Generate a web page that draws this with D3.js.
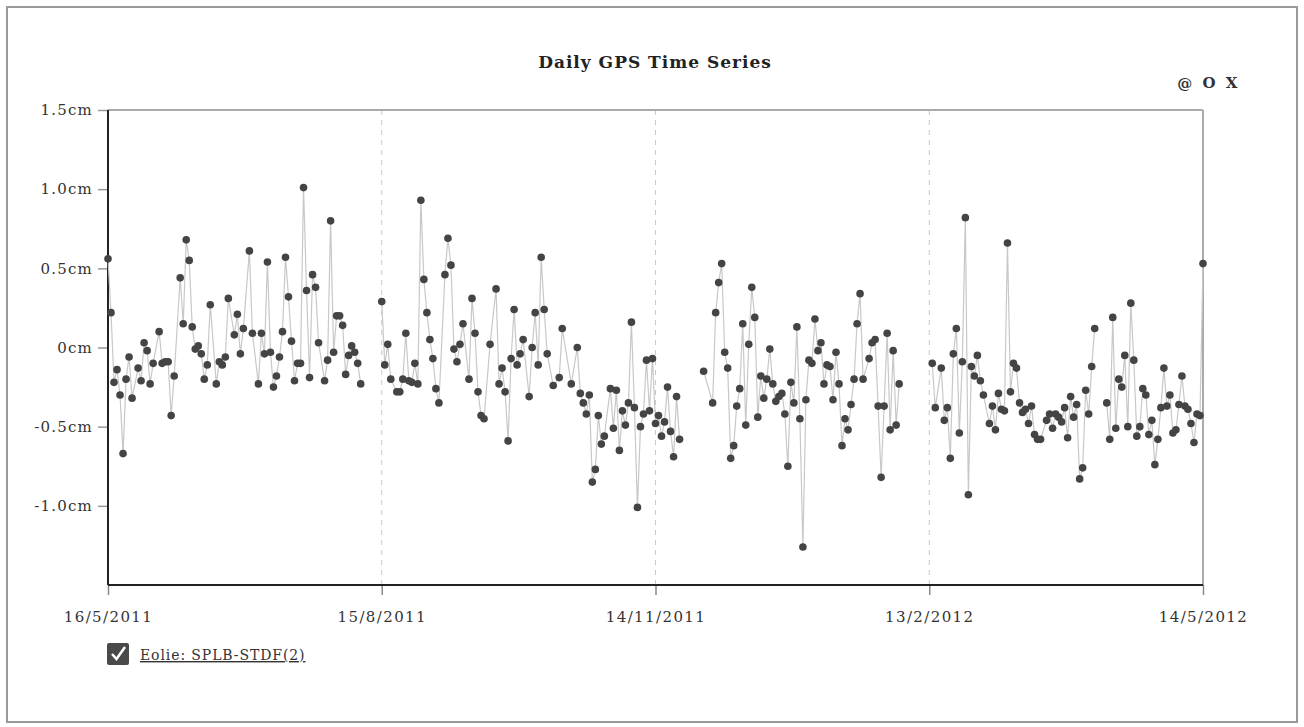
<!DOCTYPE html>
<html><head><meta charset="utf-8">
<script src="https://cdn.jsdelivr.net/npm/d3@7"></script>
<style>
body{margin:0;background:#fff;}
svg{display:block;font-family:"DejaVu Serif",serif;}
</style></head><body>
<svg id="chart" width="1304" height="727"></svg>
<script>
const chartTitle = "Daily GPS Time Series";
const cornerLabel = "@ O X";
const seriesName = "Eolie: SPLB-STDF(2)";
const startDate = new Date(2011, 4, 16);
const xTickDays = [0, 91, 182, 273, 364];
const yTickValues = [1.5, 1.0, 0.5, 0, -0.5, -1.0];
const yDomain = [-1.5, 1.5];

const dayOffsets = [
  0,1,2,3,4,5,6,7,8,10,11,12,13,14,15,17,18,19,20,21,22,24,25,26,27,28,29,30,31,32,33,34,36,37,38,39,40,42,43,44,
  45,47,48,50,51,52,53,54,55,56,57,58,59,60,61,62,63,64,65,66,67,68,69,70,72,73,74,75,76,77,78,79,80,81,82,83,84,
  91,92,93,94,96,97,98,99,100,101,102,103,104,105,106,107,108,109,110,112,113,114,115,116,117,118,120,121,122,123,124,125,127,129,130,131,132,133,134,135,136,
  137,138,140,141,142,143,144,145,146,148,150,151,154,156,157,158,159,160,161,162,163,164,165,167,168,169,170,171,172,173,174,175,176,177,178,179,180,181,182,183,184,185,186,187,188,189,190,
  198,201,202,203,204,205,206,207,208,209,210,211,212,213,214,215,216,217,218,219,220,221,222,223,224,225,226,227,228,229,230,231,232,233,234,235,236,237,238,239,240,241,242,243,244,245,246,247,248,249,250,251,
  253,254,255,256,257,258,259,260,261,262,263,
  274,275,277,278,279,280,281,282,283,284,285,286,287,288,289,290,291,293,294,295,296,297,298,299,300,301,302,303,304,305,306,307,308,309,310,312,313,314,315,316,317,318,
  319,320,321,322,323,324,325,326,327,328,332,333,334,335,336,337,338,339,340,341,342,343,344,345,346,347,348,349,350,351,352,353,354,355,356,357,358,359,360,361,362,363,364
];
const values = [
  0.56,0.22,-0.22,-0.14,-0.30,-0.67,-0.20,-0.06,-0.32,-0.13,-0.21,0.03,-0.02,-0.23,-0.10,0.10,-0.10,-0.09,-0.09,-0.43,-0.18,0.44,0.15,0.68,0.55,0.13,-0.01,0.01,-0.04,-0.20,-0.11,0.27,-0.23,-0.09,-0.11,-0.06,0.31,0.08,0.21,-0.04,
  0.12,0.61,0.09,-0.23,0.09,-0.04,0.54,-0.03,-0.25,-0.18,-0.06,0.10,0.57,0.32,0.04,-0.21,-0.10,-0.10,1.01,0.36,-0.19,0.46,0.38,0.03,-0.21,-0.08,0.80,-0.03,0.20,0.20,0.14,-0.17,-0.05,0.01,-0.03,-0.10,-0.23,
  0.29,-0.11,0.02,-0.20,-0.28,-0.28,-0.20,0.09,-0.21,-0.22,-0.10,-0.23,0.93,0.43,0.22,0.05,-0.07,-0.26,-0.35,0.46,0.69,0.52,-0.01,-0.09,0.02,0.15,-0.20,0.31,0.09,-0.28,-0.43,-0.45,0.02,0.37,-0.23,-0.13,-0.28,-0.59,-0.07,0.24,-0.11,
  -0.04,0.05,-0.31,0.00,0.22,-0.11,0.57,0.24,-0.04,-0.24,-0.19,0.12,-0.23,0.00,-0.29,-0.35,-0.42,-0.30,-0.85,-0.77,-0.43,-0.61,-0.56,-0.26,-0.51,-0.27,-0.65,-0.40,-0.49,-0.35,0.16,-0.38,-1.01,-0.50,-0.42,-0.08,-0.40,-0.07,-0.48,-0.43,-0.56,-0.47,-0.25,-0.53,-0.69,-0.31,-0.58,
  -0.15,-0.35,0.22,0.41,0.53,-0.03,-0.13,-0.70,-0.62,-0.37,-0.26,0.15,-0.49,0.02,0.38,0.19,-0.44,-0.18,-0.32,-0.20,-0.01,-0.23,-0.34,-0.31,-0.29,-0.42,-0.75,-0.22,-0.35,0.13,-0.45,-1.26,-0.33,-0.08,-0.10,0.18,-0.02,0.03,-0.23,-0.11,-0.12,-0.33,-0.03,-0.23,-0.62,-0.45,-0.52,-0.36,-0.20,0.15,0.34,-0.20,
  -0.07,0.03,0.05,-0.37,-0.82,-0.37,0.09,-0.52,-0.02,-0.49,-0.23,
  -0.10,-0.38,-0.13,-0.46,-0.38,-0.70,-0.04,0.12,-0.54,-0.09,0.82,-0.93,-0.12,-0.18,-0.05,-0.21,-0.30,-0.48,-0.37,-0.52,-0.29,-0.39,-0.40,0.66,-0.28,-0.10,-0.13,-0.35,-0.41,-0.39,-0.48,-0.37,-0.55,-0.58,-0.58,-0.46,-0.42,-0.51,-0.42,-0.44,-0.47,-0.38,
  -0.57,-0.31,-0.44,-0.36,-0.83,-0.76,-0.27,-0.42,-0.12,0.12,-0.35,-0.58,0.19,-0.51,-0.20,-0.25,-0.05,-0.50,0.28,-0.08,-0.56,-0.50,-0.26,-0.30,-0.55,-0.46,-0.74,-0.58,-0.38,-0.13,-0.37,-0.30,-0.54,-0.52,-0.36,-0.18,-0.37,-0.39,-0.48,-0.60,-0.42,-0.43,0.53
];

const W = 1304, H = 727;
const margin = {left: 108, right: 101, top: 110, bottom: 142};
const pw = W - margin.left - margin.right;
const ph = H - margin.top - margin.bottom;

const dayToDate = d => d3.timeDay.offset(startDate, d);
const data = dayOffsets.map((d, i) => ({date: dayToDate(d), day: d, value: values[i]}));
// break the line where data is missing for more than 3 days
data.forEach((p, i) => { p.gapBefore = i > 0 && (p.day - data[i-1].day) > 3; });

const x = d3.scaleTime().domain([dayToDate(0), dayToDate(364)]).range([0, pw]);
const y = d3.scaleLinear().domain(yDomain).range([ph, 0]);

const svg = d3.select("#chart");
svg.append("rect").attr("x", 7).attr("y", 7).attr("width", 1290).attr("height", 715)
  .attr("fill", "none").attr("stroke", "#9a9a9a").attr("stroke-width", 2);

svg.append("text").attr("x", 655).attr("y", 68).attr("text-anchor", "middle")
  .attr("font-weight", "bold").attr("font-size", 17).attr("letter-spacing", 1).attr("fill", "#222").text(chartTitle);
svg.append("text").attr("x", 1240).attr("y", 88).attr("text-anchor", "end")
  .attr("font-weight", "bold").attr("font-size", 15).attr("letter-spacing", 2.5).attr("fill", "#333").text(cornerLabel);

const g = svg.append("g").attr("transform", `translate(${margin.left},${margin.top})`);

// dashed vertical grid lines
const tickDates = xTickDays.map(dayToDate);
g.selectAll(".vgrid").data(tickDates.slice(1, -1)).join("line")
  .attr("x1", d => x(d)).attr("x2", d => x(d)).attr("y1", 0).attr("y2", ph)
  .attr("stroke", "#c8c8c8").attr("stroke-dasharray", "5,5").attr("stroke-width", 1);

// top / right frame
g.append("line").attr("x1", 0).attr("x2", pw).attr("y1", 0).attr("y2", 0).attr("stroke", "#aaa").attr("stroke-width", 2);
g.append("line").attr("x1", pw).attr("x2", pw).attr("y1", 0).attr("y2", ph).attr("stroke", "#aaa").attr("stroke-width", 2);

const fmtDate = d => `${d.getDate()}/${d.getMonth() + 1}/${d.getFullYear()}`;
const xAxis = g.append("g").attr("transform", `translate(0,${ph})`)
  .call(d3.axisBottom(x).tickValues(tickDates).tickFormat(fmtDate).tickSize(10).tickPadding(16));
xAxis.select(".domain").remove();
xAxis.selectAll(".tick line").attr("stroke", "#888").attr("stroke-width", 1.5);
xAxis.selectAll(".tick text").attr("font-family", "DejaVu Serif, serif").attr("font-size", 15)
  .attr("letter-spacing", 1.4).attr("fill", "#333");

const fmtY = v => v === 0 ? "0cm" : v.toFixed(1) + "cm";
const yAxis = g.append("g")
  .call(d3.axisLeft(y).tickValues(yTickValues).tickFormat(fmtY).tickSize(10).tickPadding(5));
yAxis.select(".domain").remove();
yAxis.selectAll(".tick line").attr("stroke", "#999").attr("stroke-width", 1.5);
yAxis.selectAll(".tick text").attr("font-family", "DejaVu Serif, serif").attr("font-size", 15)
  .attr("letter-spacing", 1.2).attr("fill", "#333");

// left & bottom axis lines
g.append("line").attr("x1", 0).attr("x2", 0).attr("y1", 0).attr("y2", ph).attr("stroke", "#222").attr("stroke-width", 2);
g.append("line").attr("x1", 0).attr("x2", pw).attr("y1", ph).attr("y2", ph).attr("stroke", "#222").attr("stroke-width", 2);

// series line with gaps
const segments = [];
data.forEach(p => { if (p.gapBefore || segments.length === 0) segments.push([]); segments[segments.length - 1].push(p); });
const line = d3.line().x(d => x(d.date)).y(d => y(d.value));
g.selectAll(".seg").data(segments).join("path")
  .attr("d", line).attr("fill", "none").attr("stroke", "#c8c8c8").attr("stroke-width", 1.2);

g.selectAll(".pt").data(data).join("circle")
  .attr("cx", d => x(d.date)).attr("cy", d => y(d.value)).attr("r", 3.8).attr("fill", "#444");

// legend
const lg = svg.append("g").attr("transform", "translate(107,643)");
lg.append("rect").attr("width", 22).attr("height", 22).attr("rx", 2).attr("fill", "#4a4a4a");
lg.append("path").attr("d", "M5,11 L9.5,16 L18,4").attr("fill", "none").attr("stroke", "#fff").attr("stroke-width", 2.5);
lg.append("text").attr("x", 33).attr("y", 17).attr("font-size", 14).attr("letter-spacing", 0.9).attr("fill", "#333")
  .style("text-decoration", "underline").text(seriesName);
</script>
</body></html>
